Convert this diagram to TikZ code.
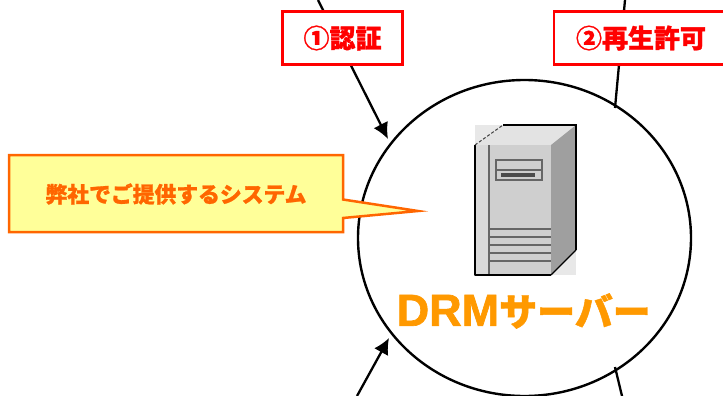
\documentclass[tikz,border=0pt]{standalone}
\usepackage{fontspec}
\usetikzlibrary{arrows.meta,shapes.geometric}
\newfontfamily\cjkb{Noto Sans CJK JP}[BoldFeatures={FakeBold=1.2}]
\newfontfamily\latb{Liberation Sans}[BoldFeatures={FakeBold=1.5}]
\definecolor{calloutline}{HTML}{FF6600}
\definecolor{calloutfill}{HTML}{FFFF99}
\definecolor{drmorange}{HTML}{FF9900}
\definecolor{servline}{HTML}{666666}
\tikzset{
  x=1pt,y=-1pt,
  conn/.style={line width=2.3pt,black},
  arrowconn/.style={conn,-{Latex[length=16pt,width=16pt]}},
  stepbox/.style={draw=red,fill=white,line width=2.5pt,text=red,font=\cjkb\bfseries\fontsize{26}{26}\selectfont,
    minimum height=53pt,inner sep=0pt,anchor=center},
  calloutshape/.style={draw=calloutline,fill=calloutfill,line width=2.5pt,miter limit=10},
  servln/.style={draw=servline,line width=1.3pt},
}
\begin{document}
\begin{tikzpicture}
\useasboundingbox (0,0) rectangle (723,396);
\clip (0,0) rectangle (723,396);
% connector ends
\coordinate (a1) at (318,0);
\coordinate (a1tip) at (388,139);
\coordinate (a2) at (625,0);
\coordinate (a2end) at (615,108);
\coordinate (a3) at (357,396);
\coordinate (a3tip) at (389,338);
\coordinate (a4) at (622,396);
\coordinate (a4end) at (615,367);
% circle
\node[draw=black,line width=2.4pt,fill=white,ellipse,inner sep=0pt,minimum width=333pt,minimum height=316pt] (server) at (524.5,238) {};
% connectors
\draw[arrowconn] (a1) -- (a1tip);
\draw[conn] (a2) -- (a2end);
\draw[arrowconn] (a3) -- (a3tip);
\draw[conn] (a4) -- (a4end);
% boxes
\node[stepbox,minimum width=120pt] (auth) at (342.5,38) {①認証};
\node[stepbox,minimum width=174pt] (play) at (641,38) {②再生許可};
% server picture
\fill[gray!18] (475,125) rectangle (503,145);
\fill[gray!18] (551,250) rectangle (576,275);
\fill[gray!22] (475,145) -- (503,125) -- (576,125) -- (551,145) -- cycle;
\fill[gray!75] (551,145) -- (576,125) -- (576,250) -- (551,275) -- cycle;
\fill[gray!38] (475,145) rectangle (551,275);
\fill[gray!30] (475,145) rectangle (489,275);
\draw[servln] (489,145) -- (489,275);
\draw[servln] (496,160) rectangle (542,180);
\draw[servln] (496,170) -- (542,170);
\fill[black!70] (501,173) rectangle (535,177);
\foreach \yy in {229,237,245,253,261}{\draw[servln] (489,\yy) -- (551,\yy);}
\draw[black,line width=1.2pt,line join=bevel] (475,145) -- (475,275) -- (551,275);
\draw[black,line width=1.2pt] (551,275) -- (576,250);
\draw[black,line width=1.2pt] (576,250) -- (576,125) -- (503,125);
\draw[black!75,line width=1pt,densely dashed] (475,145) -- (503,125);
% server label
\node[text=drmorange,inner sep=0pt,anchor=west] (drm) at (396.5,311) {\latb\bfseries\fontsize{45}{45}\selectfont DRM\cjkb\fontsize{38}{38}\selectfont サーバー};
% callout
\path[calloutshape] (9,155) -- (343,155) -- (343,199.5) -- (418,211) -- (343,218) -- (343,232) -- (9,232) -- cycle;
\node[text=calloutline,font=\cjkb\bfseries\fontsize{21.8}{22}\selectfont,inner sep=0pt] (note) at (176,194) {弊社でご提供するシステム};
\end{tikzpicture}
\end{document}
